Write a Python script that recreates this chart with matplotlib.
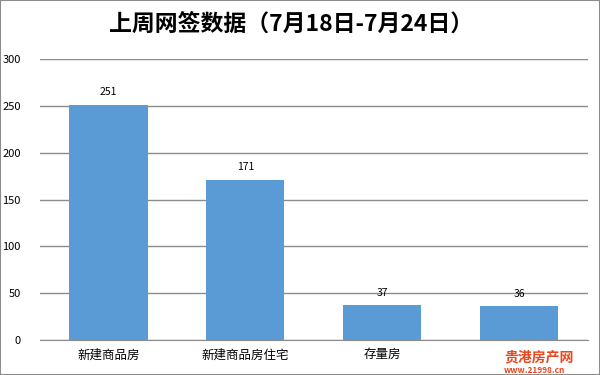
import matplotlib.pyplot as plt
from matplotlib.patches import Rectangle

plt.rcParams['font.family'] = ['Noto Sans CJK SC', 'DejaVu Sans']

categories = ['新建商品房', '新建商品房住宅', '存量房', '']
values = [251, 171, 37, 36]

fig = plt.figure(figsize=(6, 3.75), dpi=100)
ax = fig.add_axes([0.0667, 0.0933, 0.913, 0.7494])

x = range(len(categories))
bars = ax.bar(x, values, width=0.57, color='#5B9BD5', zorder=3)
for b, v in zip(bars, values):
    ax.text(b.get_x() + b.get_width() / 2, v + 8, str(v), ha='center', va='bottom', fontsize=7.5)

ax.set_xlim(-0.5, len(categories) - 0.5)
ax.set_ylim(0, 300)
ax.set_yticks(range(0, 301, 50))
ax.yaxis.grid(True, color='#8C8C8C', linewidth=1, zorder=0)
ax.set_xticks(list(x))
ax.set_xticklabels(categories, fontsize=9)
ax.tick_params(axis='y', length=0, labelsize=8, pad=14)
ax.tick_params(axis='x', length=0, pad=6)
for s in ['top', 'right', 'left']:
    ax.spines[s].set_visible(False)
ax.spines['bottom'].set_color('#8C8C8C')

fig.text(0.485, 0.935, '上周网签数据（7月18日-7月24日）', ha='center', va='center',
         fontsize=16.5, fontweight='bold')

# watermark
fig.text(0.84, 0.048, '贵港房产网', color='#E8461E', fontsize=10, fontweight='bold', va='center')
fig.text(0.84, 0.012, 'www.21998.cn', color='#E8461E', fontsize=6, fontweight='bold', va='center')

fig.patches.append(Rectangle((0, 0), 1, 1, transform=fig.transFigure, fill=False,
                             edgecolor='#8C8C8C', linewidth=1.5))

fig.savefig('out.png', dpi=100)
